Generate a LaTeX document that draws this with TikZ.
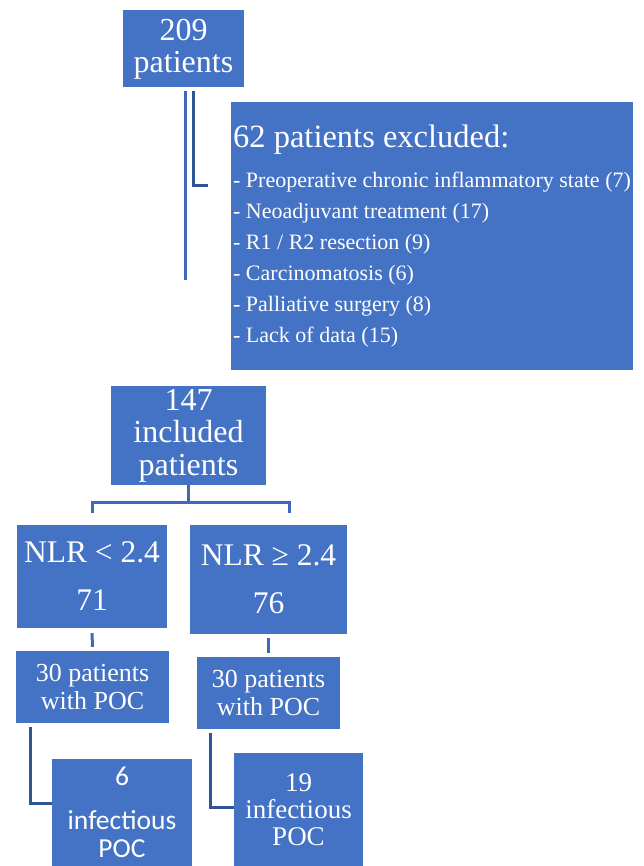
\documentclass[tikz,border=0pt]{standalone}
\usepackage{fontspec}
\setmainfont{Liberation Serif}
\newfontfamily\calfont{Carlito}
\usetikzlibrary{positioning}
\definecolor{boxblue}{RGB}{68,114,196}
\definecolor{lineblue}{RGB}{64,104,184}
\definecolor{darkline}{RGB}{47,85,151}

\begin{document}
\begin{tikzpicture}[x=1pt,y=-1pt,
    box/.style={fill=boxblue,text=white,align=center,inner sep=1pt},
    link/.style={draw=lineblue,line width=3pt},
    elbow/.style={draw=darkline,line width=3pt}]
    \useasboundingbox (0,0) rectangle (643,866);

    % Whole cohort
    \node[box,minimum width=121pt,minimum height=77pt,font=\fontsize{32}{32}\selectfont] (start) at (183.5,49) {209\\patients};

    % Excluded patients
    \node[box,align=left,minimum width=402pt,minimum height=268pt,font=\fontsize{22}{31}\selectfont] (excl) at (432,236) {%
        {\fontsize{32.5}{32.5}\selectfont 62 patients excluded:}\\[9pt]
        - Preoperative chronic inflammatory state (7)\\
        - Neoadjuvant treatment (17)\\
        - R1 / R2 resection (9)\\
        - Carcinomatosis (6)\\
        - Palliative surgery (8)\\
        - Lack of data (15)};

    % Lines below the cohort box
    \coordinate (trunktop) at ([xshift=1.5pt,yshift=-3pt]start.south);
    \coordinate (trunk) at (185,280);
    \coordinate (tip) at (208,186);
    \draw[link] (trunktop) -- (trunk);
    \draw[elbow] ([xshift=9.5pt,yshift=-3pt]start.south) |- (tip);

    % Included patients
    \node[box,minimum width=155pt,minimum height=99pt,font=\fontsize{32}{32.5}\selectfont] (incl) at (188.5,435.5) {147\\included\\patients};

    % NLR groups
    \node[box,minimum width=150pt,minimum height=103pt,font=\fontsize{31.5}{48}\selectfont] (low) at (92,576.5) {NLR < 2.4\\71};
    \node[box,minimum width=157pt,minimum height=109pt,font=\fontsize{31.5}{48}\selectfont] (high) at (268.5,579.5) {NLR ≥ 2.4\\76};

    % Split into the two groups
    \coordinate (split) at (188.5,502);
    \coordinate (rdrop) at (289,513);
    \draw[link] (incl.south) -- (split);
    \draw[link] ([yshift=12pt]low.north) |- (split) -| (rdrop);

    % Patients with POC
    \node[box,minimum width=153pt,minimum height=72pt,font=\fontsize{26}{28}\selectfont] (poc1) at (92.5,687) {30 patients\\with POC};
    \node[box,minimum width=143pt,minimum height=72pt,font=\fontsize{26}{28}\selectfont] (poc2) at (268.5,693) {30 patients\\with POC};
    \draw[link] ([yshift=-5pt]low.south) -- ([yshift=4pt]poc1.north);
    \draw[link] ([yshift=-4pt]high.south) -- ([yshift=4pt]poc2.north);

    % Infectious POC
    \node[box,minimum width=140pt,minimum height=107pt,font=\calfont\fontsize{27.5}{28}\selectfont] (inf1) at (122,812.5) {6\\[16pt]infectious\\POC};
    \node[box,minimum width=129pt,minimum height=113pt,font=\fontsize{27}{27}\selectfont] (inf2) at (298.5,809.5) {19\\infectious\\POC};
    \draw[elbow] ([xshift=15pt,yshift=-4pt]poc1.south west) |- ([yshift=9.5pt]inf1.west);
    \draw[elbow] ([xshift=14pt,yshift=-4pt]poc2.south west) |- ([yshift=2.5pt]inf2.west);
\end{tikzpicture}
\end{document}
